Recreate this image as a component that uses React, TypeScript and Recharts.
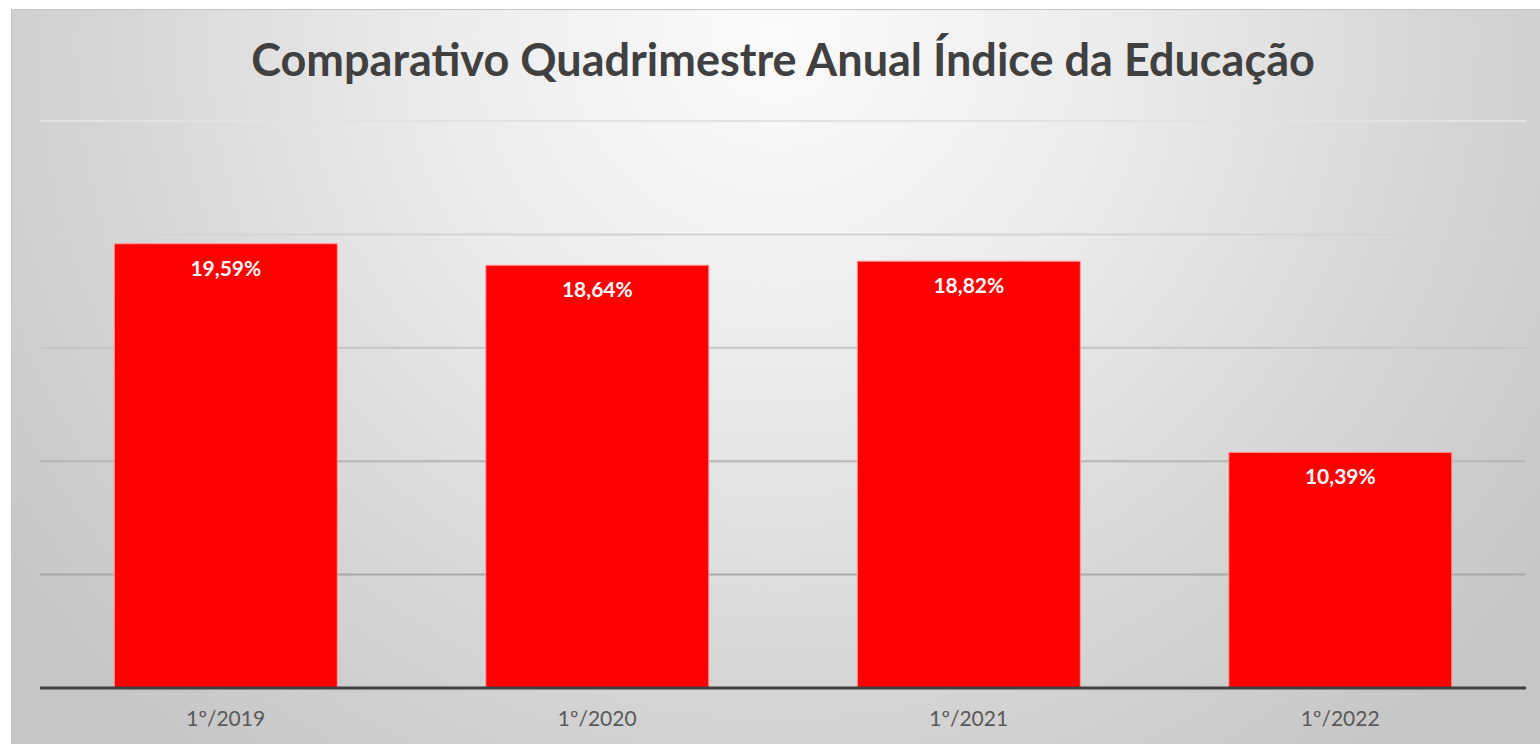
import React from 'react';
import { BarChart, Bar, XAxis, YAxis, CartesianGrid, LabelList } from 'recharts';

const periods = ['1º/2019', '1º/2020', '1º/2021', '1º/2022'];
const indices = [19.59, 18.64, 18.82, 10.39];
const yTicks = [0, 5, 10, 15, 20, 25];

const data = periods.map((period, i) => ({ period, indice: indices[i] }));

const fmtPct = (v: number) => v.toFixed(2).replace('.', ',') + '%';

export default function App() {
    return (
        <div style={{ position: 'absolute', left: 0, top: 0, width: 1540, height: 744, background: '#fff', overflow: 'hidden' }}>
            <div
                style={{
                    position: 'absolute',
                    left: 11,
                    top: 9,
                    width: 1529,
                    height: 735,
                    borderTop: '1px solid #c4c4c4',
                    borderLeft: '1px solid #c4c4c4',
                    boxSizing: 'border-box',
                    background:
                        'radial-gradient(ellipse 62% 125% at 50% 4%, #fbfbfb 0%, #ececec 35%, #d6d6d6 70%, #c6c6c6 100%)',
                }}
            >
                <div
                    style={{
                        position: 'absolute',
                        left: 7,
                        top: 22,
                        width: '100%',
                        textAlign: 'center',
                        fontFamily: 'Lato, sans-serif',
                        fontWeight: 700,
                        fontSize: 45,
                        color: '#404040',
                    }}
                >
                    Comparativo Quadrimestre Anual Índice da Educação
                </div>
                <BarChart
                    width={1528}
                    height={734}
                    data={data}
                    margin={{ top: 111, right: 14, left: 28, bottom: 0 }}
                    barCategoryGap="20%"
                    style={{ position: 'absolute', left: 0, top: 0 }}
                >
                    <defs>
                        <linearGradient id="gridFade" gradientUnits="userSpaceOnUse" x1="0" y1="111" x2="0" y2="678">
                            <stop offset="0%" stopColor="#e2e2e2" />
                            <stop offset="100%" stopColor="#9a9a9a" />
                        </linearGradient>
                    </defs>
                    <CartesianGrid vertical={false} stroke="url(#gridFade)" strokeWidth={2} />
                    <YAxis hide domain={[0, 25]} ticks={yTicks} />
                    <XAxis
                        dataKey="period"
                        height={56}
                        tickLine={false}
                        tickMargin={17}
                        axisLine={{ stroke: '#404040', strokeWidth: 3 }}
                        tick={{ fill: '#595959', fontSize: 21, fontFamily: 'Lato, sans-serif' }}
                    />
                    <Bar dataKey="indice" fill="#ff0000" stroke="#ff9a9a" strokeWidth={1} isAnimationActive={false}>
                        <LabelList
                            dataKey="indice"
                            position="insideTop"
                            offset={17}
                            formatter={(v: any) => fmtPct(Number(v))}
                            style={{ fill: '#ffffff', fontSize: 21, fontWeight: 700, fontFamily: 'Lato, sans-serif' }}
                        />
                    </Bar>
                </BarChart>
            </div>
        </div>
    );
}
